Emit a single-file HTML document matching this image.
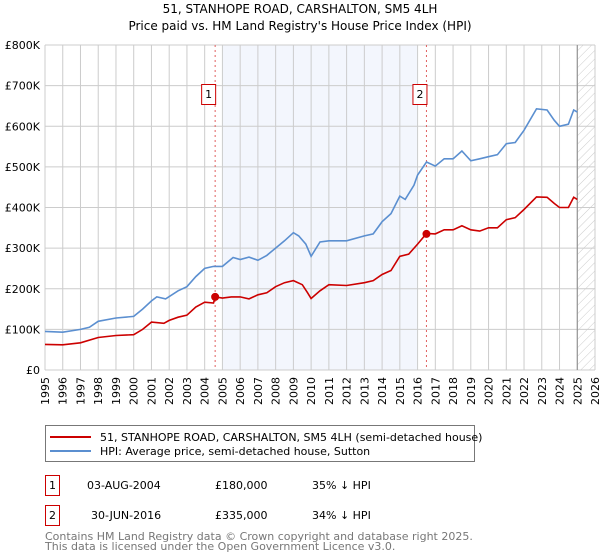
<!DOCTYPE html>
<html><head><meta charset="utf-8"><style>
body{margin:0;background:#fff;font-family:"Liberation Sans","DejaVu Sans",sans-serif;}
#wrap{position:relative;width:600px;height:560px;overflow:hidden;}
svg text{font-family:"DejaVu Sans","Liberation Sans",sans-serif;}
</style></head><body>
<div id="wrap">
<svg id="chart" width="600" height="560">
<defs><pattern id="hatch" width="6" height="6" patternUnits="userSpaceOnUse" patternTransform="rotate(45)"><line x1="0" y1="0" x2="0" y2="6" stroke="#ccc" stroke-width="1"/></pattern></defs>
<text x="300" y="13" text-anchor="middle" font-size="12" fill="#000">51, STANHOPE ROAD, CARSHALTON, SM5 4LH</text>
<text x="300" y="30" text-anchor="middle" font-size="12" fill="#000">Price paid vs. HM Land Registry's House Price Index (HPI)</text>
<g id="grid"></g><g id="marks"></g>
<rect x="45.5" y="425.5" width="429" height="36" fill="#fff" stroke="#777"/>
<line x1="50" y1="437" x2="91" y2="437" stroke="#cc0000" stroke-width="2"/>
<text x="100" y="441" font-size="11">51, STANHOPE ROAD, CARSHALTON, SM5 4LH (semi-detached house)</text>
<line x1="50" y1="451" x2="91" y2="451" stroke="#5b8fd0" stroke-width="2"/>
<text x="100" y="455" font-size="11">HPI: Average price, semi-detached house, Sutton</text>
<g>
<rect x="45.5" y="475.5" width="14" height="20" fill="#fff" stroke="#cc0000"/><text x="52.5" y="489" font-size="11" text-anchor="middle">1</text>
<text x="87" y="489" font-size="11">03-AUG-2004</text><text x="215" y="489" font-size="11">£180,000</text><text x="312" y="489" font-size="11">35% ↓ HPI</text></g>
<g>
<rect x="45.5" y="505.5" width="14" height="20" fill="#fff" stroke="#cc0000"/><text x="52.5" y="519" font-size="11" text-anchor="middle">2</text>
<text x="91" y="519" font-size="11">30-JUN-2016</text><text x="215" y="519" font-size="11">£335,000</text><text x="312" y="519" font-size="11">34% ↓ HPI</text></g>
<text x="45" y="540" font-size="11" fill="#777">Contains HM Land Registry data © Crown copyright and database right 2025.</text>
<text x="45" y="550" font-size="11" fill="#777">This data is licensed under the Open Government Licence v3.0.</text>
</svg>
</div>
<script>
const yearTicks=[1995,1996,1997,1998,1999,2000,2001,2002,2003,2004,2005,2006,2007,2008,2009,2010,2011,2012,2013,2014,2015,2016,2017,2018,2019,2020,2021,2022,2023,2024,2025,2026];
const valueTicks=[0,100000,200000,300000,400000,500000,600000,700000,800000];
const valueLabels=["£0","£100K","£200K","£300K","£400K","£500K","£600K","£700K","£800K"];
const hpiDates=[1995,1996,1997,1997.5,1998,1999,2000,2000.5,2001,2001.3,2001.8,2002.5,2003,2003.5,2004,2004.5,2005,2005.6,2006,2006.5,2007,2007.5,2008,2008.5,2009,2009.3,2009.7,2010,2010.5,2011,2012,2013,2013.5,2014,2014.5,2015,2015.3,2015.8,2016,2016.5,2017,2017.5,2018,2018.5,2019,2019.5,2020,2020.5,2021,2021.5,2022,2022.7,2023.3,2023.7,2024,2024.5,2024.8,2025];
const hpiValues=[95000,93000,100000,105000,120000,128000,132000,150000,170000,180000,175000,195000,205000,230000,250000,255000,255000,277000,272000,278000,270000,282000,300000,318000,338000,330000,310000,280000,315000,318000,318000,330000,335000,365000,385000,428000,420000,455000,480000,512000,502000,520000,520000,539000,515000,520000,525000,530000,557000,560000,590000,643000,640000,615000,600000,605000,640000,635000];
const priceDates=[1995,1996,1997,1998,1999,2000,2000.5,2001,2001.7,2002,2002.5,2003,2003.5,2004,2004.5,2004.6,2005,2005.5,2006,2006.5,2007,2007.5,2008,2008.5,2009,2009.5,2009.8,2010,2010.5,2011,2012,2013,2013.5,2014,2014.5,2015,2015.5,2016,2016.5,2017,2017.5,2018,2018.5,2019,2019.5,2020,2020.5,2021,2021.5,2022,2022.7,2023.3,2023.7,2024,2024.5,2024.8,2025];
const priceValues=[63000,62000,67000,80000,85000,87000,100000,118000,115000,122000,130000,135000,155000,167000,165000,180000,177000,180000,180000,175000,185000,190000,205000,215000,220000,210000,190000,176000,195000,210000,208000,215000,220000,235000,245000,280000,285000,310000,336000,335000,345000,345000,355000,345000,342000,350000,350000,370000,375000,395000,426000,425000,410000,400000,400000,425000,420000];
const saleDates=[2004.59,2016.5];
const saleValues=[180000,335000];
const saleLabels=["1","2"];
const L=45,R=595,T=45,B=370;
const x=d=>L+(d-1995)/(2026-1995)*(R-L);
const y=v=>B-v/800000*(B-T);
const NS="http://www.w3.org/2000/svg";
function mk(tag,attrs,parent){const e=document.createElementNS(NS,tag);for(const k in attrs)e.setAttribute(k,attrs[k]);parent.appendChild(e);return e;}
const grid=document.getElementById('grid'),marks=document.getElementById('marks');
let r=mk('rect',{x:x(2005),y:T,width:x(2016)-x(2005),height:B-T,fill:'#f0f4fd',opacity:0.8},grid);


r=mk('rect',{x:x(2025),y:T,width:R-x(2025),height:B-T,fill:'url(#hatch)'},grid);


yearTicks.forEach(d=>{mk('line',{x1:x(d),x2:x(d),y1:T,y2:B,stroke:'#ccc'},grid);
const tx=x(d)+4,ty=377;
const t=mk('text',{x:tx,y:ty,'font-size':11,'text-anchor':'end',transform:'rotate(-90 '+tx+' '+ty+')'},grid);t.textContent=d;

});
valueTicks.forEach((v,i)=>{mk('line',{x1:L,x2:R,y1:y(v),y2:y(v),stroke:'#ccc'},grid);
const t=mk('text',{x:40,y:y(v)+4,'font-size':11,'text-anchor':'end'},grid);t.textContent=valueLabels[i];

});
mk('line',{x1:x(2025),x2:x(2025),y1:T,y2:B,stroke:'#888'},grid);
saleDates.forEach((d,i)=>{const l=mk('line',{x1:x(d),x2:x(d),y1:T,y2:B,stroke:'#e06060','stroke-dasharray':'2,3'},marks);


const g=mk('g',{},marks);


mk('rect',{x:x(d)-13.5,y:84.5,width:14,height:20,fill:'#fff',stroke:'#cc0000'},g);
const t=mk('text',{x:x(d)-6.5,y:98,'font-size':11,'text-anchor':'middle'},g);t.textContent=saleLabels[i];});
function line(ds,vs,col,name){const p=mk('path',{d:ds.map((d,i)=>(i?'L':'M')+x(d).toFixed(1)+','+y(vs[i]).toFixed(1)).join(''),fill:'none',stroke:col,'stroke-width':1.6},marks);

}
line(hpiDates,hpiValues,'#5b8fd0','hpi-line');
line(priceDates,priceValues,'#cc0000','price-line');
saleDates.forEach((d,i)=>{const c=mk('circle',{cx:x(d),cy:y(saleValues[i]),r:4,fill:'#cc0000'},marks);

});
</script>
</body></html>
